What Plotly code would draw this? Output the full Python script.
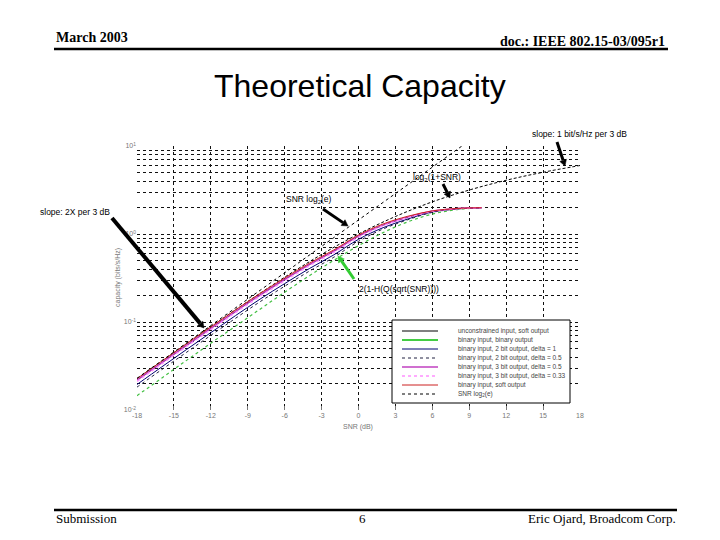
import math
import plotly.graph_objects as go

# ---------------- data ----------------
snr_db_bin = [-18, -16, -14, -12, -10, -8, -6, -4, -2, 0, 2, 4, 6, 8, 10]
cap_soft = [0.0227, 0.0358, 0.0563, 0.0880, 0.137, 0.211, 0.316, 0.465, 0.66, 0.972, 1.30, 1.59, 1.83, 1.95, 1.99]
cap_hard = [0.01455, 0.0230, 0.0364, 0.0575, 0.0894, 0.140, 0.218, 0.335, 0.503, 0.738, 1.037, 1.373, 1.684, 1.894, 1.98]
cap_2b_d1 = [0.0195, 0.0308, 0.0484, 0.0757, 0.118, 0.182, 0.273, 0.404, 0.58, 0.87, 1.18, 1.48, 1.78, 1.93, 1.985]
cap_2b_d05 = [0.0182, 0.0287, 0.0450, 0.0705, 0.110, 0.170, 0.255, 0.378, 0.545, 0.825, 1.14, 1.45, 1.76, 1.925, 1.985]
cap_3b_d05 = [0.0218, 0.0344, 0.0540, 0.0845, 0.1315, 0.2025, 0.304, 0.448, 0.64, 0.945, 1.26, 1.55, 1.82, 1.945, 1.99]
cap_3b_d033 = [0.0211, 0.0333, 0.0524, 0.0818, 0.1275, 0.196, 0.294, 0.434, 0.62, 0.92, 1.24, 1.54, 1.81, 1.94, 1.99]

shannon_db = [-18, -15, -12, -9, -6, -3, 0, 3, 6, 9, 12, 15, 18]
shannon_cap = [0.0227, 0.0449, 0.0884, 0.171, 0.323, 0.586, 1.0, 1.58, 2.32, 3.16, 4.08, 5.03, 6.0]

lin_db = [-18, 0, 18]
lin_cap = [0.0229, 1.443, 91.0]

x_ticks = [-18, -15, -12, -9, -6, -3, 0, 3, 6, 9, 12, 15, 18]
y_decades = [0.01, 0.1, 1, 10]
y_decade_labels = ["10<sup>-2</sup>", "10<sup>-1</sup>", "10<sup>0</sup>", "10<sup>1</sup>"]
y_minor = [d * k for d in [0.01, 0.1, 1] for k in range(2, 10)]

legend_labels = [
    "unconstrained input, soft output",
    "binary input, binary output",
    "binary input, 2 bit output, delta = 1",
    "binary input, 2 bit output, delta = 0.5",
    "binary input, 3 bit output, delta = 0.5",
    "binary input, 3 bit output, delta = 0.33",
    "binary input, soft output",
    "SNR log<sub>2</sub>(e)",
]

# ---------------- layout helpers ----------------
OFF = 8                       # page body margin
W, H = 720 - OFF, 540 - OFF
L, R, T, B = 137, 580, 146, 410   # plot area in screen pixels


def px(x):
    return (x - L) / (R - L)


def py(y):
    return (B - y) / (B - T)


fig = go.Figure()

fig.add_trace(go.Scatter(x=shannon_db, y=shannon_cap, mode="lines", line_shape="spline",
                         line=dict(color="black", width=1, dash="3px,2px")))
fig.add_trace(go.Scatter(x=snr_db_bin, y=cap_hard, mode="lines", line_shape="spline",
                         line=dict(color="#44c044", width=1.2, dash="dot")))
fig.add_trace(go.Scatter(x=snr_db_bin, y=cap_2b_d1, mode="lines", line_shape="spline",
                         line=dict(color="#000070", width=1)))
fig.add_trace(go.Scatter(x=snr_db_bin, y=cap_2b_d05, mode="lines", line_shape="spline",
                         line=dict(color="#202040", width=1, dash="dot")))
fig.add_trace(go.Scatter(x=snr_db_bin, y=cap_3b_d05, mode="lines", line_shape="spline",
                         line=dict(color="#b030b0", width=1.5)))
fig.add_trace(go.Scatter(x=snr_db_bin, y=cap_3b_d033, mode="lines", line_shape="spline",
                         line=dict(color="#ff90ff", width=1.5, dash="dot")))
fig.add_trace(go.Scatter(x=snr_db_bin, y=cap_soft, mode="lines", line_shape="spline",
                         line=dict(color="#cc2020", width=1)))
fig.add_trace(go.Scatter(x=lin_db, y=lin_cap, mode="lines",
                         line=dict(color="black", width=1, dash="dot")))

grid = dict(showgrid=True, gridcolor="#111", griddash="dot", gridwidth=0.8)

fig.update_layout(
    width=W, height=H,
    margin=dict(l=L - OFF, r=(720 - OFF) - (R - OFF), t=T - OFF, b=(540 - OFF) - (B - OFF), pad=0),
    paper_bgcolor="white", plot_bgcolor="white",
    showlegend=False,
    font=dict(family="Liberation Sans, Arial", color="#555"),
    xaxis=dict(range=[-18, 18], tickvals=x_ticks, ticktext=[str(v) for v in x_ticks],
               zeroline=False, showline=False, ticks="inside", ticklen=4,
               tickcolor="#777", tickfont=dict(size=7, color="#777"), automargin=False, **grid),
    yaxis=dict(type="log", range=[-2, 1], tickvals=y_decades, ticktext=y_decade_labels,
               zeroline=False, showline=False, ticks="", tickfont=dict(size=7, color="#777"),
               automargin=False,
               minor=dict(tickvals=y_minor, showgrid=True, gridcolor="#111", griddash="dot",
                          gridwidth=0.8, ticks=""),
               **grid),
)

shapes = []
ann = []

# header / footer rules
shapes.append(dict(type="line", xref="paper", yref="paper", x0=px(54), x1=px(668), y0=py(49), y1=py(49),
                   line=dict(color="black", width=2.5)))
shapes.append(dict(type="line", xref="paper", yref="paper", x0=px(54), x1=px(677), y0=py(510), y1=py(510),
                   line=dict(color="black", width=2.5)))

serif = "Liberation Serif, Times New Roman"
ann.append(dict(text="<b>March 2003</b>", x=px(54), y=py(38), xref="paper", yref="paper",
                xanchor="left", yanchor="middle", showarrow=False, font=dict(family=serif, size=14, color="black")))
ann.append(dict(text="<b>doc.: IEEE 802.15-03/095r1</b>", x=px(667), y=py(41), xref="paper", yref="paper",
                xanchor="right", yanchor="middle", showarrow=False, font=dict(family=serif, size=14, color="black")))
ann.append(dict(text="Theoretical Capacity", x=px(360), y=py(86), xref="paper", yref="paper",
                xanchor="center", yanchor="middle", showarrow=False,
                font=dict(family="Liberation Sans, Arial", size=32, color="black")))
ann.append(dict(text="Submission", x=px(54), y=py(518), xref="paper", yref="paper",
                xanchor="left", yanchor="middle", showarrow=False, font=dict(family=serif, size=13, color="black")))
ann.append(dict(text="6", x=px(362), y=py(518), xref="paper", yref="paper",
                xanchor="center", yanchor="middle", showarrow=False, font=dict(family=serif, size=13, color="black")))
ann.append(dict(text="Eric Ojard, Broadcom Corp.", x=px(678), y=py(518), xref="paper", yref="paper",
                xanchor="right", yanchor="middle", showarrow=False, font=dict(family=serif, size=13, color="black")))

# axis titles
ann.append(dict(text="SNR (dB)", x=px(358), y=py(427), xref="paper", yref="paper",
                xanchor="center", yanchor="middle", showarrow=False, font=dict(size=7, color="#777")))
ann.append(dict(text="capacity (bits/s/Hz)", x=px(118), y=py(278), xref="paper", yref="paper",
                xanchor="center", yanchor="middle", showarrow=False, textangle=-90,
                font=dict(size=7, color="#777")))

# labels
lab_font = dict(family="Liberation Sans, Arial", size=8.5, color="black")
ann.append(dict(text="slope: 1 bit/s/Hz per 3 dB", x=px(530), y=py(134), xref="paper", yref="paper",
                xanchor="left", yanchor="middle", showarrow=False, font=lab_font))
ann.append(dict(text="log<sub>2</sub>(1+SNR)", x=px(437), y=py(177), xref="paper", yref="paper",
                xanchor="center", yanchor="middle", showarrow=False, font=lab_font))
ann.append(dict(text="SNR log<sub>2</sub>(e)", x=px(309), y=py(199), xref="paper", yref="paper",
                xanchor="center", yanchor="middle", showarrow=False, font=lab_font))
ann.append(dict(text="slope: 2X per 3 dB", x=px(38), y=py(212), xref="paper", yref="paper",
                xanchor="left", yanchor="middle", showarrow=False, font=lab_font))
ann.append(dict(text="2(1-H(Q(sqrt(SNR))))", x=px(357), y=py(289), xref="paper", yref="paper",
                xanchor="left", yanchor="middle", showarrow=False, font=lab_font))

# arrows drawn as shapes: (head, tail, colour, width)
arrows = [
    ((565, 166), (557, 142), "black", 3),
    ((450, 198), (443, 184), "black", 3),
    ((348, 226), (323, 209), "black", 3),
    ((204, 328), (112, 218), "black", 4),
    ((338, 256), (354, 279), "#33cc33", 3),
]
for (hx, hy), (tx, ty), col, wd in arrows:
    dx, dy = hx - tx, hy - ty
    n = math.hypot(dx, dy)
    ux, uy = dx / n, dy / n
    hl, hw = 6, 3.5
    bx, by = hx - ux * hl, hy - uy * hl
    shapes.append(dict(type="line", xref="paper", yref="paper", x0=px(tx), y0=py(ty), x1=px(bx), y1=py(by),
                       line=dict(color=col, width=wd), layer="above"))
    p1 = (bx - uy * hw, by + ux * hw)
    p2 = (bx + uy * hw, by - ux * hw)
    path = "M {:.5f} {:.5f} L {:.5f} {:.5f} L {:.5f} {:.5f} Z".format(
        px(hx), py(hy), px(p1[0]), py(p1[1]), px(p2[0]), py(p2[1]))
    shapes.append(dict(type="path", xref="paper", yref="paper", path=path,
                       fillcolor=col, line=dict(color=col, width=0.5), layer="above"))

# custom legend box
lx0, lx1, ly0, ly1 = 392, 570, 320, 403
shapes.append(dict(type="rect", xref="paper", yref="paper", x0=px(lx0), x1=px(lx1), y0=py(ly1), y1=py(ly0),
                   line=dict(color="black", width=1), fillcolor="white", layer="above"))
leg_styles = [
    ("black", 1, "solid"),
    ("#44cc44", 2, "solid"),
    ("#000070", 1, "solid"),
    ("#202040", 1, "dot"),
    ("#c040c0", 1.5, "solid"),
    ("#ff90ff", 1.5, "dot"),
    ("#cc2020", 1, "solid"),
    ("black", 1, "dot"),
]
row_y = [331, 340, 349, 358, 367, 376, 385, 394]
for i, lab in enumerate(legend_labels):
    c, w, d = leg_styles[i]
    shapes.append(dict(type="line", xref="paper", yref="paper", x0=px(402), x1=px(438),
                       y0=py(row_y[i]), y1=py(row_y[i]), line=dict(color=c, width=w, dash=d), layer="above"))
    ann.append(dict(text=lab, x=px(456), y=py(row_y[i]), xref="paper", yref="paper",
                    xanchor="left", yanchor="middle", showarrow=False,
                    font=dict(size=6.5, color="#444")))

fig.update_layout(shapes=shapes, annotations=ann)
fig.write_html("out.html")
